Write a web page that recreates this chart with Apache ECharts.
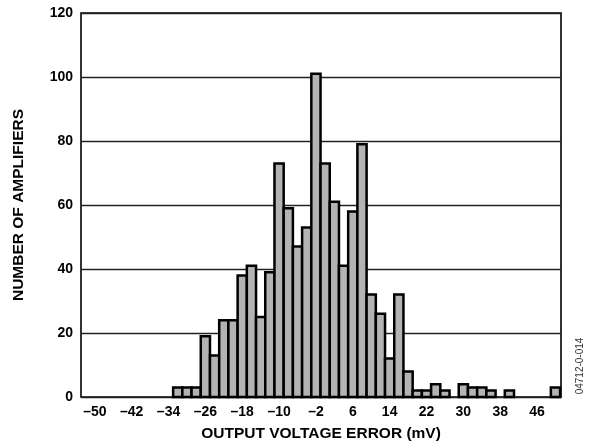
<!DOCTYPE html>
<html>
<head>
<meta charset="utf-8">
<script src="https://cdn.jsdelivr.net/npm/echarts@6/dist/echarts.min.js"></script>
<style>html,body{margin:0;padding:0;background:#fff}#c{width:590px;height:446px}</style>
</head>
<body>
<div id="c"></div>
<script>
// Bin centers (mV), 2 mV wide bins
var binCenters = [-32,-30,-28,-26,-24,-22,-20,-18,-16,-14,-12,-10,-8,-6,-4,-2,0,2,4,6,8,10,12,14,16,18,20,22,24,26,28,30,32,34,36,38,40,42,44,46,48,50];
var counts =     [3,3,3,19,13,24,24,38,41,25,39,73,59,47,53,101,73,61,41,58,79,32,26,12,32,8,2,2,4,2,0,4,3,3,2,0,2,0,0,0,0,3];
var xTickLabels = [-50,-42,-34,-26,-18,-10,-2,6,14,22,30,38,46];
var yTicks = [0,20,40,60,80,100,120];
var binWidth = 2;

var data = binCenters.map(function(c,i){return [c, counts[i]];}).filter(function(d){return d[1] > 0;});
var font = 'Liberation Sans, Arial, sans-serif';
var chart = echarts.init(document.getElementById('c'), null, {renderer:'canvas'});
chart.setOption({
  animation:false,
  grid:{left:81, top:13, width:480, height:384, show:true, borderColor:'#000', borderWidth:1.6,
        backgroundColor:'transparent', containLabel:false, outerBoundsMode:'none'},
  xAxis:{
    type:'value', min:-53, max:51.2,
    axisLine:{show:false}, axisTick:{show:false}, splitLine:{show:false},
    axisLabel:{customValues:xTickLabels, margin:8, fontFamily:font, fontWeight:'bold', fontSize:14, color:'#000',
      formatter:function(v){return v < 0 ? '\u2013' + Math.abs(v) : String(v);}},
    name:'OUTPUT VOLTAGE ERROR (mV)', nameLocation:'middle', nameGap:29,
    nameTextStyle:{fontFamily:font, fontWeight:'bold', fontSize:15.5, color:'#000'}
  },
  yAxis:{
    type:'value', min:0, max:120, interval:20,
    axisLine:{show:false}, axisTick:{show:false},
    splitLine:{show:true, lineStyle:{color:'#222', width:1.3}},
    axisLabel:{customValues:yTicks, margin:8, fontFamily:font, fontWeight:'bold', fontSize:14, color:'#000'},
    name:'NUMBER OF AMPLIFIERS', nameLocation:'middle', nameGap:54,
    nameTextStyle:{fontFamily:font, fontWeight:'bold', fontSize:15.5, color:'#000'}
  },
  series:[{
    type:'custom',
    data:data,
    renderItem:function(params, api){
      var c = api.value(0), v = api.value(1);
      var p0 = api.coord([c - binWidth/2, v]);
      var p1 = api.coord([c + binWidth/2, 0]);
      return {type:'rect', shape:{x:p0[0], y:p0[1], width:p1[0]-p0[0], height:p1[1]-p0[1]},
        style:{fill:'#b3b3b3', stroke:'#000', lineWidth:2.5}};
    },
    z:3
  }],
  graphic:[{
    type:'text', x:580, y:366, rotation:Math.PI/2, z:10,
    style:{text:'04712-0-014', fontFamily:font, fontSize:10, fill:'#333', align:'center', verticalAlign:'middle'}
  }]
});
</script>
</body>
</html>
